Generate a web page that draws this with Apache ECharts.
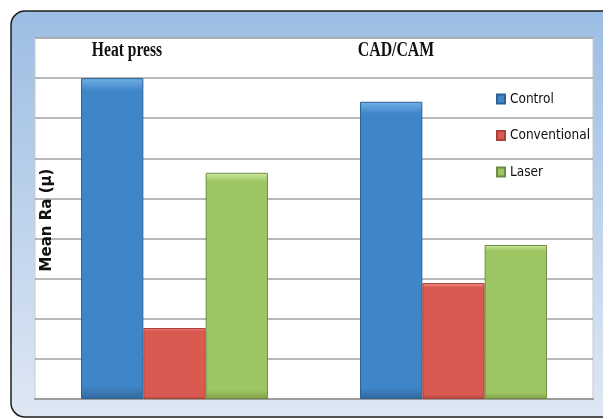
<!DOCTYPE html>
<html>
<head>
<meta charset="utf-8">
<script src="https://cdn.jsdelivr.net/npm/echarts@6/dist/echarts.min.js"></script>
<style>
  html, body { margin: 0; padding: 0; background: #ffffff; }
  #chart { width: 603px; height: 419px; }
</style>
</head>
<body>
<div id="chart"></div>
<script>
// Groups and mean surface roughness per fabrication technique
const categories = ['Heat press', 'CAD/CAM'];
const seriesNames = ['Control', 'Conventional', 'Laser'];
const controlValues = [8.0, 7.41];
const conventionalValues = [1.77, 2.89];
const laserValues = [5.64, 3.84];
const yAxisTitle = 'Mean Ra (\u00b5)';

// Bevel-like fills for each series
function bevel(top, mid, bottom) {
  return new echarts.graphic.LinearGradient(0, 0, 0, 1, [
    { offset: 0, color: top },
    { offset: 0.04, color: mid },
    { offset: 0.96, color: mid },
    { offset: 1, color: bottom }
  ]);
}
const styles = [
  { color: bevel('#72b0e6', '#3f86c9', '#33689c'), borderColor: '#2d6194' },
  { color: bevel('#f29088', '#d95a51', '#b24640'), borderColor: '#a8403b' },
  { color: bevel('#cfe79f', '#9dc663', '#7f9f4c'), borderColor: '#6f8e40' }
];
const valueSets = [controlValues, conventionalValues, laserValues];

const chart = echarts.init(document.getElementById('chart'), null, { renderer: 'canvas' });

const frameFill = new echarts.graphic.LinearGradient(0, 0, 0, 1, [
  { offset: 0, color: '#9cbde4' },
  { offset: 1, color: '#dfe8f4' }
]);

const serifLabel = {
  fontFamily: "'Liberation Serif', 'DejaVu Serif', serif",
  fontWeight: 'bold',
  fontSize: 20,
  fill: '#111111',
  align: 'center',
  verticalAlign: 'middle'
};

chart.setOption({
  animation: false,
  backgroundColor: '#ffffff',
  graphic: [
    {
      type: 'rect', z: -10, silent: true,
      shape: { x: 11, y: 11, width: 620, height: 406, r: 14 },
      style: { fill: frameFill, stroke: '#1e1e1e', lineWidth: 1.5 }
    },
    {
      type: 'text', z: 10, x: 127, y: 51, scaleX: 0.78,
      style: Object.assign({ text: categories[0] }, serifLabel)
    },
    {
      type: 'text', z: 10, x: 396, y: 51, scaleX: 0.79,
      style: Object.assign({ text: categories[1] }, serifLabel)
    },
    {
      type: 'text', z: 10, x: 47, y: 220, rotation: Math.PI / 2,
      style: {
        text: yAxisTitle,
        fontFamily: "'DejaVu Sans', sans-serif",
        fontWeight: 'bold',
        fontSize: 15,
        fill: '#111111',
        align: 'center',
        verticalAlign: 'middle'
      }
    }
  ],
  legend: {
    orient: 'vertical',
    left: 491,
    top: 87,
    itemWidth: 8,
    itemHeight: 9,
    itemGap: 22.5,
    icon: 'rect',
    data: seriesNames,
    textStyle: {
      fontFamily: "'DejaVu Sans Condensed', 'Liberation Sans Narrow', sans-serif",
      fontSize: 13.5,
      color: '#111111'
    }
  },
  grid: {
    left: 35, right: 10, top: 38, bottom: 20,
    show: true,
    backgroundColor: '#ffffff',
    borderColor: '#c9c9c9',
    borderWidth: 1
  },
  xAxis: {
    type: 'category',
    data: categories,
    axisLine: { show: true, lineStyle: { color: '#9c9c9c', width: 2 } },
    axisTick: { show: false },
    axisLabel: { show: false }
  },
  yAxis: {
    type: 'value',
    min: 0, max: 9, interval: 1,
    axisLine: { show: false },
    axisTick: { show: false },
    axisLabel: { show: false },
    splitLine: { show: true, lineStyle: { color: '#a2a2a2', width: 1.6 } }
  },
  series: seriesNames.map((name, i) => ({
    name: name,
    type: 'bar',
    data: valueSets[i],
    barGap: '0%',
    barCategoryGap: '33%',
    itemStyle: {
      color: styles[i].color,
      borderColor: styles[i].borderColor,
      borderWidth: 1
    }
  }))
});
</script>
</body>
</html>
